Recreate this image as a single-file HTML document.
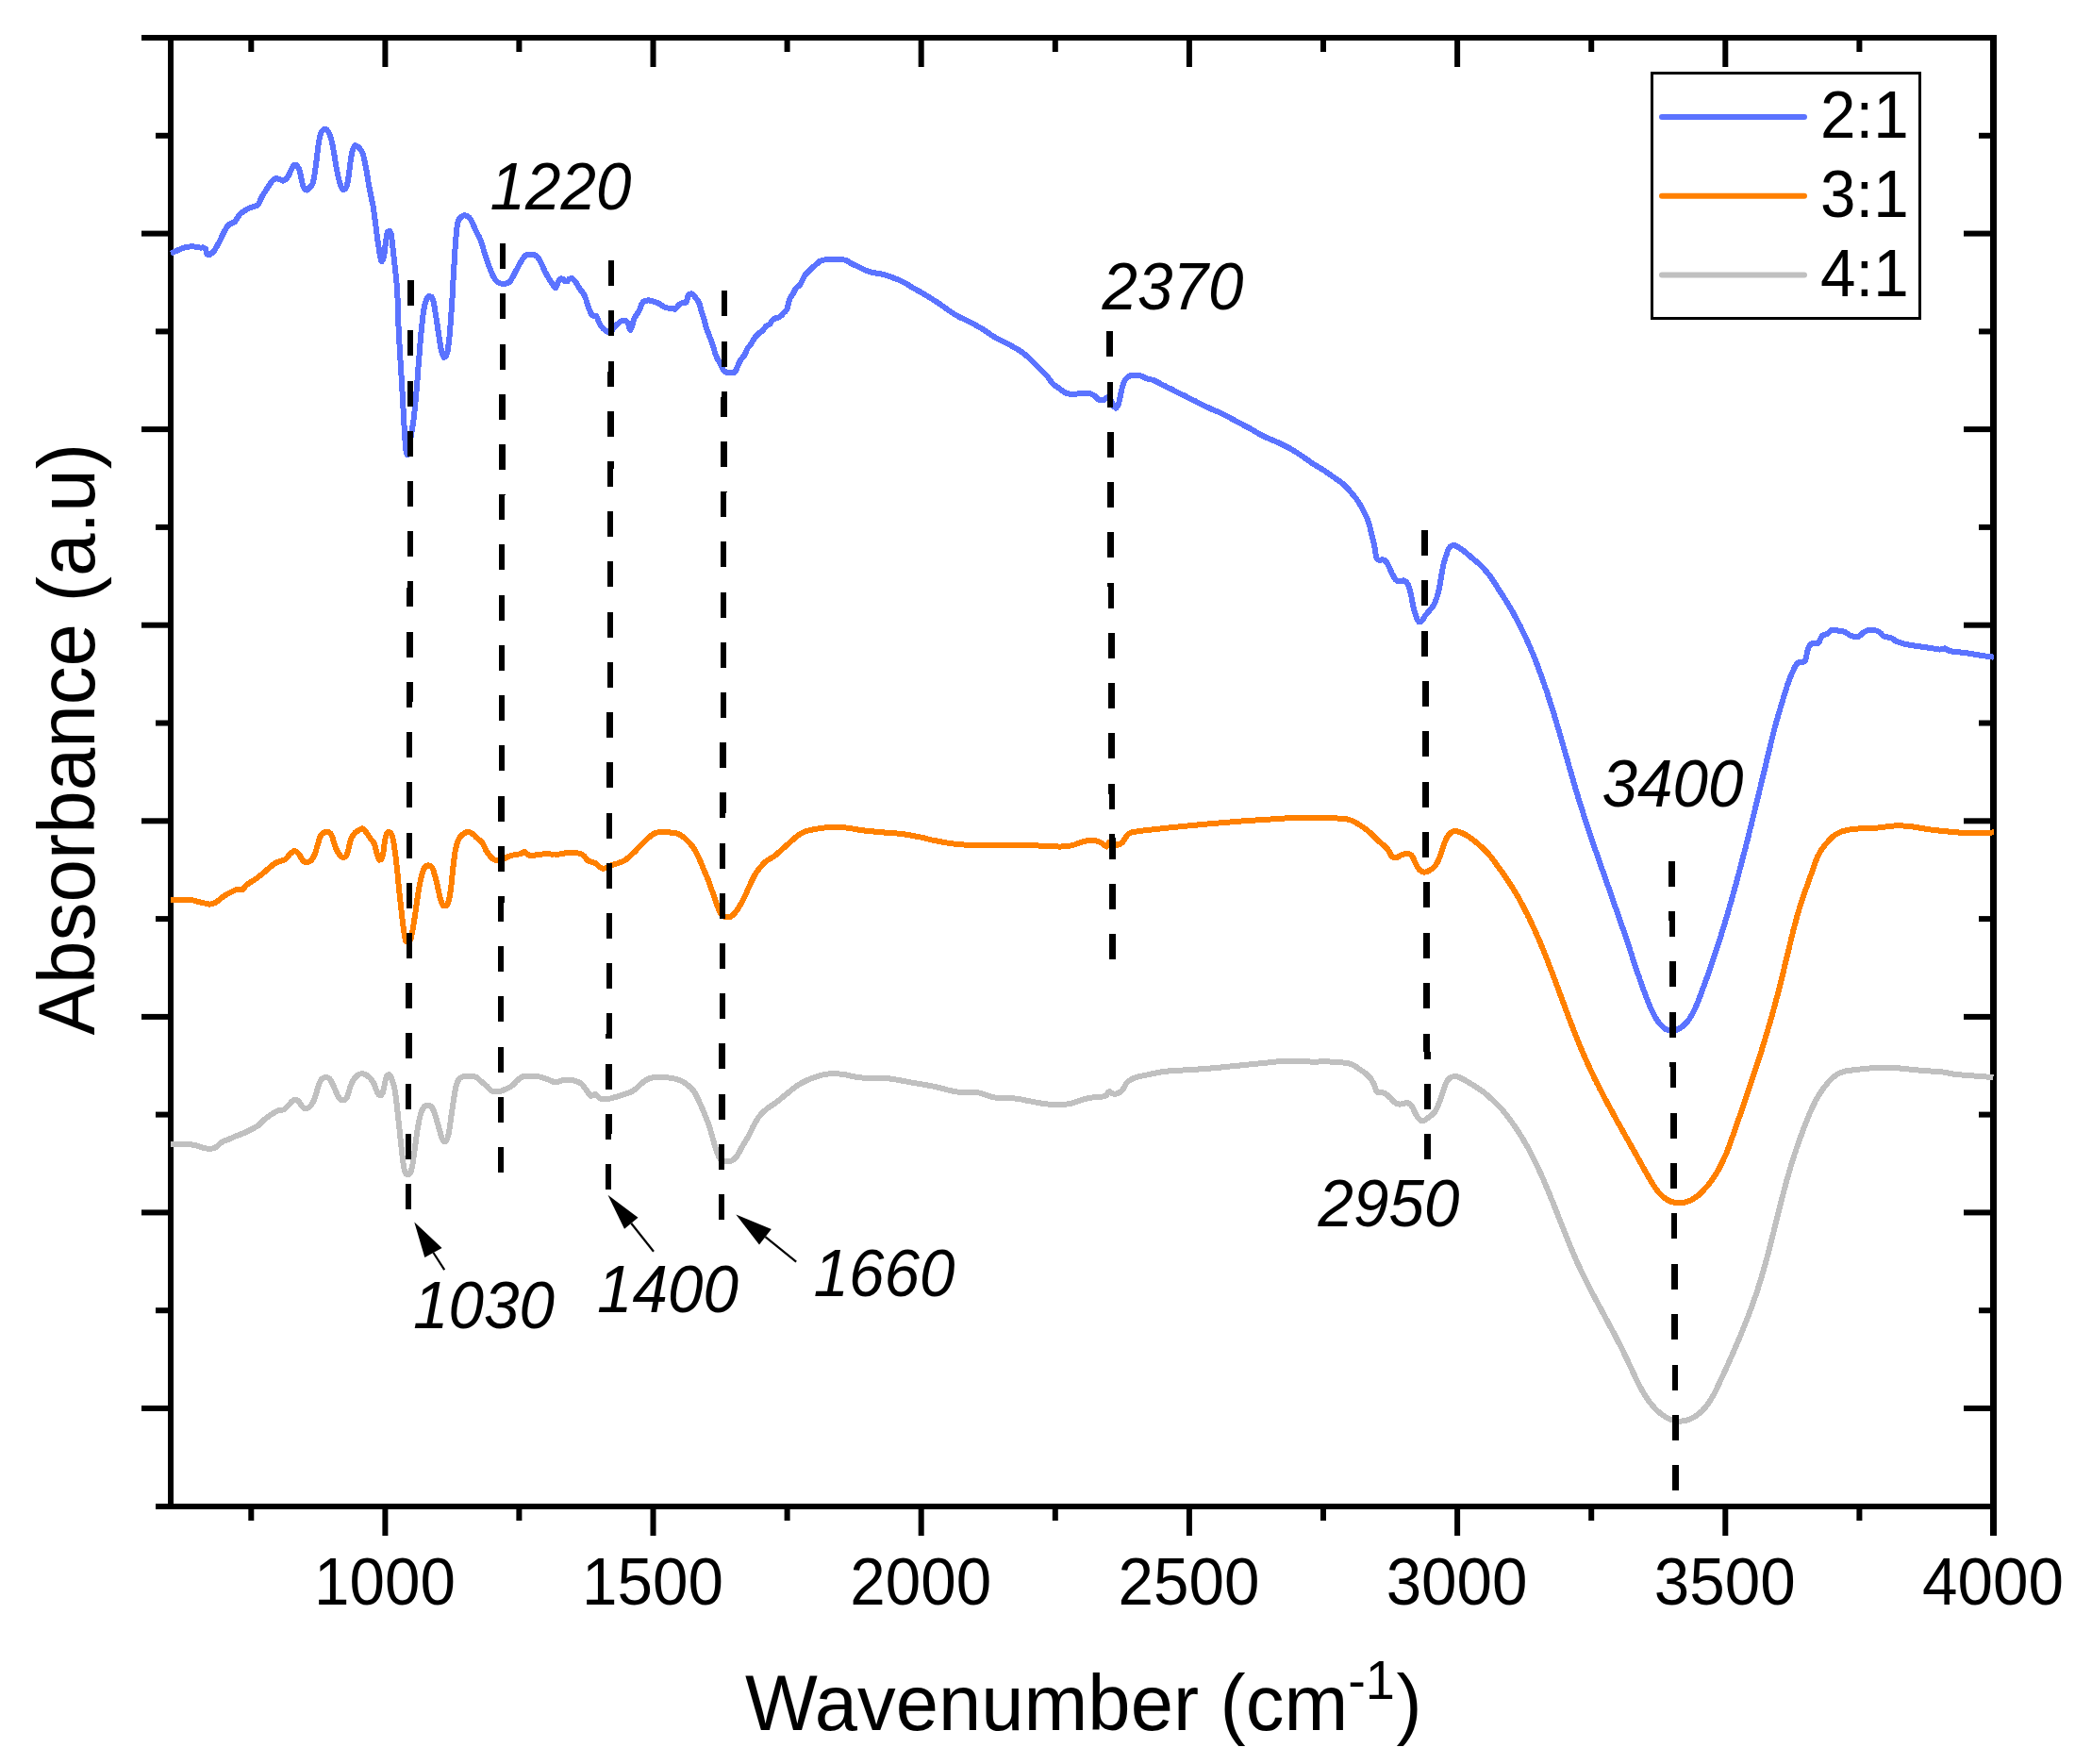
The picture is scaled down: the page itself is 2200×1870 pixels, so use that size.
<!DOCTYPE html>
<html lang="en"><head><meta charset="utf-8"><title>FTIR spectra</title>
<style>html,body{margin:0;padding:0;background:#fff}svg{display:block}text{font-family:"Liberation Sans",sans-serif;fill:#000}.it{font-style:italic}</style></head><body>
<svg width="2200" height="1870" viewBox="0 0 2200 1870">
<rect x="0" y="0" width="2200" height="1870" fill="#fff"/>
<g id="axes" fill="#000">
<rect x="150" y="37" width="1967" height="6"/>
<rect x="165" y="1594" width="1952" height="6"/>
<rect x="178" y="37" width="6" height="1563"/>
<rect x="2110" y="37" width="7" height="1591"/>
<rect x="165" y="140.8" width="13" height="6"/>
<rect x="2098" y="140.8" width="12" height="6"/>
<rect x="150" y="244.6" width="28" height="6"/>
<rect x="2082" y="244.6" width="28" height="6"/>
<rect x="165" y="348.4" width="13" height="6"/>
<rect x="2098" y="348.4" width="12" height="6"/>
<rect x="150" y="452.1" width="28" height="6"/>
<rect x="2082" y="452.1" width="28" height="6"/>
<rect x="165" y="555.9" width="13" height="6"/>
<rect x="2098" y="555.9" width="12" height="6"/>
<rect x="150" y="659.7" width="28" height="6"/>
<rect x="2082" y="659.7" width="28" height="6"/>
<rect x="165" y="763.5" width="13" height="6"/>
<rect x="2098" y="763.5" width="12" height="6"/>
<rect x="150" y="867.3" width="28" height="6"/>
<rect x="2082" y="867.3" width="28" height="6"/>
<rect x="165" y="971.1" width="13" height="6"/>
<rect x="2098" y="971.1" width="12" height="6"/>
<rect x="150" y="1074.9" width="28" height="6"/>
<rect x="2082" y="1074.9" width="28" height="6"/>
<rect x="165" y="1178.6" width="13" height="6"/>
<rect x="2098" y="1178.6" width="12" height="6"/>
<rect x="150" y="1282.4" width="28" height="6"/>
<rect x="2082" y="1282.4" width="28" height="6"/>
<rect x="165" y="1386.2" width="13" height="6"/>
<rect x="2098" y="1386.2" width="12" height="6"/>
<rect x="150" y="1490.0" width="28" height="6"/>
<rect x="2082" y="1490.0" width="28" height="6"/>
<rect x="405.4" y="43" width="6" height="28"/>
<rect x="405.4" y="1600" width="6" height="28"/>
<rect x="689.5" y="43" width="6" height="28"/>
<rect x="689.5" y="1600" width="6" height="28"/>
<rect x="973.7" y="43" width="6" height="28"/>
<rect x="973.7" y="1600" width="6" height="28"/>
<rect x="1257.9" y="43" width="6" height="28"/>
<rect x="1257.9" y="1600" width="6" height="28"/>
<rect x="1542.1" y="43" width="6" height="28"/>
<rect x="1542.1" y="1600" width="6" height="28"/>
<rect x="1826.3" y="43" width="6" height="28"/>
<rect x="1826.3" y="1600" width="6" height="28"/>
<rect x="263.3" y="43" width="6" height="12"/>
<rect x="263.3" y="1600" width="6" height="12"/>
<rect x="547.4" y="43" width="6" height="12"/>
<rect x="547.4" y="1600" width="6" height="12"/>
<rect x="831.6" y="43" width="6" height="12"/>
<rect x="831.6" y="1600" width="6" height="12"/>
<rect x="1115.8" y="43" width="6" height="12"/>
<rect x="1115.8" y="1600" width="6" height="12"/>
<rect x="1400.0" y="43" width="6" height="12"/>
<rect x="1400.0" y="1600" width="6" height="12"/>
<rect x="1684.2" y="43" width="6" height="12"/>
<rect x="1684.2" y="1600" width="6" height="12"/>
<rect x="1968.4" y="43" width="6" height="12"/>
<rect x="1968.4" y="1600" width="6" height="12"/>
</g>
<g id="curves" shape-rendering="crispEdges">
<line x1="1510.2" y1="561.9" x2="1513.6" y2="1229.3" stroke="#000" stroke-width="7.0" stroke-dasharray="27.00 26.37"/>
<path d="M181.1,1213.1L184.1,1212.9 187.1,1212.8 190.1,1212.7 193.1,1212.6 196.1,1212.6 199.1,1212.9 202.1,1213.3 205.0,1213.8 208.0,1214.4 210.9,1215.2 213.7,1216.2 216.5,1217.1 219.5,1217.6 222.5,1217.7 225.5,1217.5 228.3,1216.7 230.7,1214.8 232.8,1212.7 235.1,1210.8 237.8,1209.5 240.6,1208.5 243.4,1207.3 246.2,1206.1 248.9,1204.9 251.6,1203.7 254.5,1202.7 257.3,1201.6 260.1,1200.5 262.8,1199.2 265.4,1197.8 268.1,1196.4 270.7,1195.0 273.3,1193.5 275.6,1191.6 277.7,1189.4 279.8,1187.2 282.1,1185.3 284.5,1183.6 287.0,1181.9 289.5,1180.3 292.1,1178.8 294.8,1177.5 297.8,1177.0 300.7,1176.4 303.1,1174.7 305.1,1172.4 307.1,1170.2 309.2,1168.0 311.5,1166.1 314.3,1165.7 316.7,1167.4 318.4,1169.9 319.9,1172.5 322.0,1174.6 324.9,1175.2 327.5,1173.9 329.7,1171.8 331.3,1169.3 332.7,1166.6 333.8,1163.8 334.8,1161.0 335.6,1158.1 336.4,1155.2 337.3,1152.3 338.2,1149.5 339.3,1146.7 340.9,1144.1 343.3,1142.5 346.2,1142.1 349.0,1143.1 350.8,1145.5 352.2,1148.2 353.5,1150.9 354.6,1153.7 355.8,1156.4 357.0,1159.1 358.3,1161.9 359.8,1164.5 362.1,1166.3 365.0,1166.3 367.3,1164.4 368.6,1161.8 369.4,1158.9 370.2,1156.0 371.1,1153.1 372.1,1150.3 373.3,1147.5 374.7,1144.9 376.4,1142.4 378.5,1140.3 381.0,1138.7 383.9,1138.1 386.8,1138.8 389.4,1140.3 391.7,1142.3 393.7,1144.5 395.4,1147.0 396.8,1149.6 397.9,1152.4 398.9,1155.2 400.0,1158.0 401.6,1160.5 404.1,1160.9 405.8,1158.4 406.6,1155.5 407.2,1152.6 407.8,1149.7 408.4,1146.7 409.0,1143.8 410.0,1141.0 412.1,1139.1 414.2,1141.0 415.4,1143.7 416.3,1146.5 417.2,1149.4 417.9,1152.3 418.6,1155.3 419.1,1158.2 419.5,1161.2 419.9,1164.2 420.2,1167.1 420.6,1170.1 420.9,1173.1 421.2,1176.1 421.6,1179.1 421.9,1182.1 422.2,1185.0 422.5,1188.0 422.9,1191.0 423.2,1194.0 423.5,1197.0 423.8,1200.0 424.1,1202.9 424.4,1205.9 424.8,1208.9 425.1,1211.9 425.4,1214.9 425.7,1217.9 426.0,1220.8 426.4,1223.8 426.7,1226.8 427.1,1229.8 427.5,1232.7 427.9,1235.7 428.4,1238.7 429.2,1241.6 430.4,1244.3 433.0,1245.3 435.0,1243.2 436.1,1240.5 436.8,1237.5 437.4,1234.6 437.8,1231.6 438.3,1228.6 438.7,1225.7 439.1,1222.7 439.6,1219.7 440.0,1216.8 440.4,1213.8 440.7,1210.8 441.1,1207.8 441.5,1204.9 441.9,1201.9 442.4,1198.9 442.9,1196.0 443.4,1193.0 443.9,1190.1 444.5,1187.1 445.2,1184.2 446.0,1181.3 446.9,1178.5 448.1,1175.7 449.7,1173.2 452.2,1171.7 455.2,1171.7 457.6,1173.4 459.1,1176.0 460.2,1178.8 461.2,1181.6 462.1,1184.5 463.0,1187.3 463.8,1190.2 464.6,1193.1 465.4,1196.0 466.2,1198.9 467.1,1201.8 467.9,1204.6 468.9,1207.5 470.4,1210.0 472.9,1209.7 474.2,1207.0 475.1,1204.2 475.8,1201.2 476.3,1198.3 476.8,1195.3 477.2,1192.4 477.6,1189.4 478.0,1186.4 478.4,1183.4 478.9,1180.5 479.3,1177.5 479.7,1174.5 480.1,1171.6 480.6,1168.6 481.0,1165.6 481.5,1162.7 482.0,1159.7 482.5,1156.8 483.1,1153.8 483.7,1150.9 484.5,1148.0 485.7,1145.2 487.6,1143.0 490.3,1141.6 493.2,1141.0 496.2,1140.8 499.2,1140.8 502.2,1141.1 505.0,1142.1 507.4,1143.9 509.6,1145.9 511.9,1147.8 514.3,1149.7 516.5,1151.7 518.5,1153.9 520.6,1156.0 523.4,1157.2 526.4,1157.4 529.3,1157.1 532.2,1156.2 535.0,1155.1 537.7,1153.9 540.4,1152.6 542.9,1150.9 545.1,1148.9 547.1,1146.6 549.3,1144.6 551.6,1142.7 554.3,1141.3 557.2,1140.7 560.2,1140.7 563.2,1140.8 566.2,1140.9 569.2,1141.1 572.2,1141.5 575.1,1142.2 577.9,1143.2 580.8,1144.2 583.5,1145.4 586.2,1146.6 589.2,1147.3 592.1,1146.8 594.9,1145.8 597.8,1144.9 600.8,1144.7 603.8,1144.8 606.8,1145.1 609.7,1145.8 612.5,1146.7 615.2,1148.1 617.5,1150.0 619.4,1152.4 621.1,1154.8 622.9,1157.2 624.4,1159.8 626.3,1162.1 628.6,1161.1 630.8,1159.6 632.9,1161.7 635.1,1163.7 637.8,1165.0 640.8,1165.5 643.8,1165.2 646.7,1164.6 649.6,1163.8 652.5,1163.1 655.4,1162.3 658.3,1161.4 661.1,1160.4 664.0,1159.5 666.8,1158.5 669.5,1157.3 672.1,1155.8 674.4,1153.9 676.6,1151.8 678.8,1149.7 681.1,1147.8 683.5,1146.0 686.0,1144.4 688.8,1143.2 691.7,1142.5 694.7,1142.1 697.7,1142.0 700.7,1142.0 703.6,1142.1 706.6,1142.3 709.6,1142.6 712.6,1143.0 715.5,1143.6 718.4,1144.5 721.2,1145.5 723.9,1146.8 726.5,1148.4 728.9,1150.1 731.2,1152.0 733.4,1154.1 735.3,1156.5 737.0,1158.9 738.4,1161.6 739.7,1164.3 740.9,1167.0 742.1,1169.8 743.4,1172.5 744.6,1175.2 745.8,1178.0 746.9,1180.8 748.1,1183.5 749.1,1186.3 750.2,1189.1 751.2,1192.0 752.2,1194.8 753.1,1197.7 754.0,1200.5 754.8,1203.4 755.6,1206.3 756.4,1209.2 757.2,1212.1 758.1,1214.9 759.0,1217.8 759.9,1220.7 761.0,1223.5 762.2,1226.2 763.8,1228.7 766.1,1230.7 769.0,1231.3 772.0,1231.2 774.9,1230.8 777.6,1229.5 779.8,1227.4 781.6,1225.1 783.2,1222.5 784.6,1219.9 786.0,1217.2 787.5,1214.6 789.0,1212.1 790.6,1209.5 792.1,1206.9 793.5,1204.3 794.9,1201.6 796.2,1198.9 797.5,1196.2 798.9,1193.5 800.3,1190.9 801.8,1188.3 803.4,1185.7 805.1,1183.3 807.1,1181.0 809.2,1178.9 811.4,1176.9 813.7,1175.0 816.1,1173.2 818.6,1171.5 821.1,1169.9 823.6,1168.1 825.9,1166.3 828.3,1164.4 830.6,1162.5 832.9,1160.6 835.2,1158.7 837.6,1156.8 839.9,1154.9 842.3,1153.1 844.7,1151.3 847.2,1149.7 849.8,1148.2 852.4,1146.7 855.1,1145.4 857.9,1144.3 860.7,1143.2 863.5,1142.2 866.4,1141.2 869.2,1140.3 872.1,1139.5 875.1,1138.9 878.0,1138.5 881.0,1138.2 884.0,1138.2 887.0,1138.3 890.0,1138.5 893.0,1138.8 896.0,1139.2 898.9,1139.8 901.8,1140.5 904.7,1141.2 907.7,1141.8 910.6,1142.3 913.6,1142.5 916.6,1142.6 919.6,1142.7 922.6,1142.7 925.6,1142.8 928.6,1142.9 931.6,1143.0 934.6,1143.0 937.6,1143.1 940.6,1143.3 943.6,1143.5 946.6,1143.9 949.5,1144.4 952.5,1144.9 955.4,1145.5 958.4,1146.1 961.3,1146.6 964.3,1147.2 967.2,1147.7 970.2,1148.2 973.1,1148.7 976.1,1149.2 979.1,1149.7 982.0,1150.2 985.0,1150.8 987.9,1151.3 990.8,1151.9 993.8,1152.6 996.7,1153.3 999.6,1154.1 1002.5,1154.8 1005.4,1155.6 1008.3,1156.3 1011.2,1156.9 1014.2,1157.4 1017.2,1157.8 1020.2,1157.9 1023.2,1157.9 1026.2,1157.9 1029.2,1157.9 1032.2,1157.9 1035.2,1158.1 1038.1,1158.5 1041.1,1159.2 1043.9,1160.2 1046.7,1161.2 1049.6,1162.2 1052.4,1163.0 1055.4,1163.6 1058.4,1163.9 1061.4,1164.0 1064.4,1164.1 1067.4,1164.0 1070.4,1164.1 1073.4,1164.2 1076.3,1164.5 1079.3,1164.9 1082.3,1165.4 1085.2,1166.0 1088.2,1166.6 1091.1,1167.2 1094.0,1167.7 1097.0,1168.3 1099.9,1168.8 1102.9,1169.4 1105.8,1169.9 1108.8,1170.3 1111.8,1170.6 1114.8,1170.8 1117.8,1170.9 1120.8,1170.9 1123.8,1170.9 1126.8,1170.8 1129.8,1170.6 1132.8,1170.3 1135.7,1169.7 1138.6,1168.8 1141.4,1168.0 1144.3,1166.9 1147.1,1165.9 1149.9,1165.0 1152.9,1164.4 1155.8,1163.9 1158.8,1163.4 1161.8,1163.0 1164.8,1162.7 1167.8,1162.6 1170.7,1162.4 1173.3,1161.0 1174.5,1158.3 1176.6,1157.2 1179.0,1159.0 1181.7,1160.0 1184.6,1159.3 1187.3,1157.9 1189.6,1156.0 1191.4,1153.6 1192.7,1150.9 1194.2,1148.3 1196.4,1146.3 1198.8,1144.6 1201.5,1143.2 1204.3,1142.2 1207.2,1141.3 1210.1,1140.7 1213.1,1140.0 1216.0,1139.5 1218.9,1138.8 1221.9,1138.2 1224.8,1137.6 1227.8,1137.0 1230.7,1136.5 1233.7,1136.1 1236.6,1135.7 1239.6,1135.4 1242.6,1135.1 1245.6,1134.9 1248.6,1134.8 1251.6,1134.6 1254.6,1134.5 1257.6,1134.3 1260.6,1134.2 1263.6,1134.0 1266.6,1133.8 1269.6,1133.6 1272.6,1133.3 1275.6,1133.1 1278.6,1132.9 1281.5,1132.7 1284.5,1132.4 1287.5,1132.2 1290.5,1131.9 1293.5,1131.6 1296.5,1131.3 1299.5,1131.0 1302.5,1130.7 1305.4,1130.4 1308.4,1130.1 1311.4,1129.8 1314.4,1129.5 1317.4,1129.2 1320.4,1128.9 1323.3,1128.6 1326.3,1128.3 1329.3,1128.0 1332.3,1127.7 1335.3,1127.4 1338.3,1127.1 1341.3,1126.8 1344.2,1126.5 1347.2,1126.1 1350.2,1125.8 1353.2,1125.5 1356.2,1125.3 1359.2,1125.1 1362.2,1124.9 1365.2,1124.8 1368.2,1124.8 1371.2,1124.8 1374.2,1124.9 1377.2,1124.9 1380.2,1125.1 1383.2,1125.3 1386.1,1125.4 1389.1,1125.5 1392.1,1125.6 1395.1,1125.5 1398.1,1125.5 1401.1,1125.4 1404.1,1125.4 1407.1,1125.4 1410.1,1125.5 1413.1,1125.7 1416.1,1125.8 1419.1,1126.0 1422.1,1126.3 1425.1,1126.6 1428.1,1127.0 1431.0,1127.6 1433.8,1128.6 1436.5,1130.0 1439.0,1131.7 1441.4,1133.4 1443.9,1135.1 1446.4,1136.8 1448.7,1138.7 1450.9,1140.7 1452.9,1143.0 1454.6,1145.5 1456.1,1148.1 1457.4,1150.7 1458.3,1153.6 1459.1,1156.5 1461.2,1158.5 1464.2,1158.4 1467.2,1158.5 1469.8,1160.0 1472.1,1162.0 1474.3,1164.0 1476.3,1166.2 1478.4,1168.4 1480.9,1169.9 1483.8,1170.6 1486.8,1170.4 1489.6,1169.4 1492.6,1169.3 1495.2,1170.7 1497.1,1173.0 1498.5,1175.7 1499.7,1178.4 1501.1,1181.1 1502.6,1183.7 1504.4,1186.0 1506.7,1187.9 1509.6,1188.0 1512.2,1186.4 1514.6,1184.6 1517.0,1182.9 1519.3,1180.9 1521.2,1178.6 1522.7,1176.0 1524.0,1173.3 1525.2,1170.6 1526.3,1167.8 1527.3,1165.0 1528.2,1162.1 1529.1,1159.2 1530.1,1156.4 1531.1,1153.6 1532.1,1150.8 1533.3,1148.0 1534.8,1145.4 1536.8,1143.2 1539.4,1141.6 1542.3,1141.2 1545.3,1141.5 1548.1,1142.5 1550.8,1143.8 1553.4,1145.3 1556.0,1146.8 1558.6,1148.3 1561.2,1149.9 1563.7,1151.5 1566.2,1153.1 1568.7,1154.8 1571.2,1156.5 1573.6,1158.3 1575.9,1160.2 1578.2,1162.1 1580.4,1164.2 1582.6,1166.2 1584.8,1168.2 1587.0,1170.3 1589.1,1172.4 1591.1,1174.6 1593.1,1176.9 1595.0,1179.2 1596.9,1181.5 1598.8,1183.9 1600.6,1186.3 1602.3,1188.7 1604.0,1191.2 1605.7,1193.7 1607.4,1196.1 1609.0,1198.6 1610.7,1201.2 1612.3,1203.7 1613.9,1206.2 1615.4,1208.8 1616.9,1211.4 1618.4,1214.0 1619.9,1216.6 1621.3,1219.3 1622.7,1221.9 1624.1,1224.6 1625.5,1227.2 1626.8,1229.9 1628.1,1232.6 1629.4,1235.3 1630.7,1238.0 1632.0,1240.8 1633.2,1243.5 1634.5,1246.2 1635.7,1249.0 1636.9,1251.7 1638.1,1254.5 1639.2,1257.2 1640.4,1260.0 1641.5,1262.8 1642.7,1265.5 1643.8,1268.3 1644.9,1271.1 1646.1,1273.9 1647.2,1276.7 1648.3,1279.5 1649.4,1282.2 1650.5,1285.0 1651.6,1287.8 1652.7,1290.6 1653.8,1293.4 1654.9,1296.2 1656.0,1299.0 1657.1,1301.8 1658.2,1304.6 1659.3,1307.4 1660.4,1310.1 1661.5,1312.9 1662.6,1315.7 1663.8,1318.5 1664.9,1321.3 1666.1,1324.0 1667.2,1326.8 1668.4,1329.6 1669.6,1332.3 1670.8,1335.1 1672.0,1337.8 1673.3,1340.5 1674.6,1343.2 1675.8,1345.9 1677.1,1348.7 1678.4,1351.4 1679.8,1354.1 1681.1,1356.7 1682.4,1359.4 1683.8,1362.1 1685.1,1364.8 1686.5,1367.4 1687.9,1370.1 1689.3,1372.8 1690.7,1375.4 1692.1,1378.1 1693.5,1380.7 1694.9,1383.4 1696.4,1386.0 1697.8,1388.6 1699.2,1391.3 1700.6,1393.9 1702.1,1396.6 1703.5,1399.2 1704.9,1401.8 1706.3,1404.5 1707.7,1407.1 1709.2,1409.8 1710.6,1412.4 1712.0,1415.1 1713.4,1417.7 1714.7,1420.4 1716.1,1423.1 1717.5,1425.7 1718.8,1428.4 1720.2,1431.1 1721.5,1433.8 1722.8,1436.5 1724.1,1439.2 1725.4,1441.9 1726.7,1444.6 1728.0,1447.3 1729.3,1450.0 1730.5,1452.7 1731.8,1455.5 1733.0,1458.2 1734.3,1460.9 1735.7,1463.6 1737.0,1466.3 1738.3,1469.0 1739.7,1471.6 1741.2,1474.2 1742.7,1476.8 1744.3,1479.4 1745.9,1481.9 1747.6,1484.4 1749.4,1486.8 1751.3,1489.1 1753.2,1491.4 1755.3,1493.6 1757.4,1495.7 1759.7,1497.7 1762.0,1499.5 1764.5,1501.2 1767.0,1502.8 1769.7,1504.1 1772.5,1505.3 1775.4,1506.1 1778.3,1506.6 1781.3,1506.7 1784.3,1506.4 1787.3,1505.9 1790.1,1505.0 1792.9,1503.9 1795.6,1502.5 1798.1,1500.9 1800.6,1499.2 1802.9,1497.3 1805.1,1495.2 1807.1,1493.0 1809.0,1490.7 1810.8,1488.3 1812.5,1485.8 1814.1,1483.3 1815.6,1480.7 1817.1,1478.1 1818.5,1475.4 1819.8,1472.7 1821.1,1470.0 1822.4,1467.3 1823.6,1464.6 1824.9,1461.9 1826.2,1459.2 1827.4,1456.4 1828.7,1453.7 1829.9,1451.0 1831.1,1448.2 1832.4,1445.5 1833.6,1442.8 1834.8,1440.0 1836.0,1437.3 1837.3,1434.5 1838.5,1431.8 1839.7,1429.0 1840.8,1426.3 1842.0,1423.5 1843.2,1420.8 1844.4,1418.0 1845.5,1415.2 1846.7,1412.4 1847.8,1409.7 1848.9,1406.9 1850.0,1404.1 1851.1,1401.3 1852.2,1398.5 1853.3,1395.7 1854.4,1392.9 1855.4,1390.1 1856.5,1387.3 1857.5,1384.5 1858.5,1381.7 1859.5,1378.8 1860.5,1376.0 1861.5,1373.2 1862.4,1370.3 1863.4,1367.5 1864.3,1364.6 1865.2,1361.7 1866.1,1358.9 1867.0,1356.0 1867.8,1353.1 1868.7,1350.3 1869.5,1347.4 1870.3,1344.5 1871.2,1341.6 1872.0,1338.7 1872.8,1335.8 1873.5,1332.9 1874.3,1330.0 1875.1,1327.1 1875.8,1324.2 1876.6,1321.3 1877.3,1318.4 1878.1,1315.5 1878.8,1312.6 1879.5,1309.7 1880.3,1306.8 1881.0,1303.9 1881.7,1301.0 1882.4,1298.0 1883.2,1295.1 1883.9,1292.2 1884.6,1289.3 1885.3,1286.4 1886.0,1283.5 1886.8,1280.6 1887.5,1277.7 1888.2,1274.8 1889.0,1271.9 1889.7,1268.9 1890.5,1266.0 1891.2,1263.1 1892.0,1260.2 1892.8,1257.3 1893.5,1254.4 1894.3,1251.6 1895.1,1248.7 1896.0,1245.8 1896.8,1242.9 1897.6,1240.0 1898.5,1237.1 1899.3,1234.3 1900.2,1231.4 1901.1,1228.5 1902.0,1225.7 1902.9,1222.8 1903.9,1220.0 1904.8,1217.1 1905.8,1214.3 1906.8,1211.4 1907.8,1208.6 1908.8,1205.8 1909.9,1203.0 1910.9,1200.2 1912.0,1197.4 1913.0,1194.6 1914.1,1191.8 1915.2,1189.0 1916.3,1186.2 1917.4,1183.4 1918.6,1180.6 1919.8,1177.9 1921.0,1175.1 1922.3,1172.4 1923.6,1169.7 1924.9,1167.0 1926.4,1164.4 1927.9,1161.8 1929.5,1159.3 1931.1,1156.8 1932.9,1154.3 1934.7,1151.9 1936.5,1149.6 1938.4,1147.2 1940.4,1145.0 1942.5,1142.9 1944.9,1141.0 1947.3,1139.3 1950.0,1137.8 1952.7,1136.6 1955.6,1135.7 1958.5,1135.2 1961.5,1134.8 1964.4,1134.4 1967.4,1134.0 1970.4,1133.7 1973.4,1133.4 1976.4,1133.1 1979.4,1132.8 1982.3,1132.5 1985.3,1132.2 1988.3,1132.0 1991.3,1131.8 1994.3,1131.7 1997.3,1131.6 2000.3,1131.6 2003.3,1131.7 2006.3,1131.8 2009.3,1132.0 2012.3,1132.2 2015.3,1132.6 2018.3,1132.9 2021.2,1133.2 2024.2,1133.5 2027.2,1133.8 2030.2,1134.1 2033.2,1134.4 2036.2,1134.7 2039.2,1135.0 2042.2,1135.2 2045.1,1135.4 2048.1,1135.6 2051.1,1135.8 2054.1,1136.0 2057.1,1136.2 2060.1,1136.5 2063.1,1137.0 2066.0,1137.6 2068.9,1138.3 2071.9,1138.7 2074.9,1139.1 2077.8,1139.3 2080.8,1139.6 2083.8,1139.8 2086.8,1140.0 2089.8,1140.3 2092.8,1140.5 2095.8,1140.7 2098.8,1140.9 2101.8,1141.2 2104.8,1141.4 2107.8,1141.7 2110.7,1141.9 2113.4,1142.1" fill="none" stroke="#C0C0C0" stroke-width="6" stroke-linejoin="round" stroke-linecap="butt"/>
<path d="M181.1,954.0L184.1,953.8 187.1,953.7 190.1,953.6 193.1,953.6 196.1,953.6 199.1,953.7 202.1,954.0 205.1,954.5 208.0,955.3 210.8,956.1 213.8,956.8 216.7,957.4 219.6,958.3 222.5,958.6 225.5,958.0 228.2,956.9 230.7,955.2 233.1,953.4 235.4,951.5 237.9,949.8 240.4,948.2 243.1,946.8 245.8,945.4 248.4,944.0 251.2,943.0 254.2,943.2 257.1,943.0 259.2,940.8 261.0,938.5 263.4,936.7 266.0,935.1 268.5,933.5 271.0,931.9 273.5,930.1 275.8,928.2 278.1,926.3 280.4,924.4 282.7,922.4 285.0,920.5 287.3,918.6 289.5,916.6 292.0,914.9 294.7,913.7 297.6,912.8 300.5,912.1 303.1,910.6 305.0,908.3 306.8,905.9 309.0,903.9 311.5,902.2 314.3,902.6 316.4,904.7 318.1,907.2 319.4,909.9 321.1,912.3 323.5,913.9 326.5,913.9 329.2,912.7 331.2,910.5 332.7,907.8 333.9,905.1 334.9,902.3 335.7,899.4 336.5,896.5 337.4,893.6 338.2,890.7 339.1,887.9 340.4,885.2 342.5,883.1 345.3,882.0 348.3,882.0 350.6,883.8 352.0,886.4 353.0,889.3 353.8,892.2 354.6,895.0 355.6,897.9 356.8,900.6 358.2,903.3 359.8,905.8 361.7,908.1 364.4,909.1 366.9,907.6 368.2,904.9 369.0,902.0 369.7,899.1 370.4,896.2 371.1,893.3 371.9,890.4 373.0,887.6 374.6,885.1 376.5,882.7 378.9,881.1 381.5,879.6 384.2,878.3 386.5,880.0 388.3,882.4 390.0,884.8 391.7,887.4 393.4,889.8 395.5,891.9 396.9,894.5 397.8,897.4 398.5,900.3 399.2,903.2 400.1,906.1 401.0,909.0 402.3,911.7 404.5,910.7 405.5,907.9 406.2,904.9 406.7,902.0 407.0,899.0 407.4,896.0 407.8,893.0 408.3,890.1 408.9,887.1 409.7,884.3 411.4,881.9 414.0,882.7 415.4,885.3 416.3,888.1 416.9,891.1 417.5,894.0 418.0,897.0 418.4,899.9 418.8,902.9 419.2,905.9 419.6,908.9 419.9,911.8 420.3,914.8 420.6,917.8 420.9,920.8 421.3,923.8 421.6,926.8 421.9,929.7 422.2,932.7 422.4,935.7 422.7,938.7 423.0,941.7 423.3,944.7 423.6,947.7 424.0,950.6 424.3,953.6 424.6,956.6 424.9,959.6 425.2,962.6 425.6,965.6 425.9,968.5 426.3,971.5 426.6,974.5 427.0,977.5 427.3,980.4 427.7,983.4 428.1,986.4 428.6,989.4 429.1,992.3 429.6,995.3 430.5,998.1 432.8,999.2 434.7,996.9 435.8,994.2 436.5,991.2 437.1,988.3 437.6,985.4 438.1,982.4 438.6,979.4 439.1,976.5 439.5,973.5 439.9,970.5 440.4,967.6 440.8,964.6 441.2,961.6 441.7,958.7 442.1,955.7 442.5,952.7 443.0,949.8 443.4,946.8 443.9,943.8 444.4,940.9 444.9,937.9 445.5,935.0 446.1,932.0 446.8,929.1 447.6,926.2 448.5,923.4 449.6,920.6 451.3,918.1 454.0,917.2 456.8,918.1 458.6,920.5 459.7,923.3 460.5,926.1 461.4,929.0 462.1,931.9 462.8,934.8 463.5,937.8 464.1,940.7 464.7,943.6 465.4,946.6 466.0,949.5 466.8,952.4 467.6,955.3 468.7,958.1 470.4,960.5 473.0,960.3 474.8,957.9 475.8,955.1 476.4,952.2 477.0,949.2 477.4,946.2 477.8,943.3 478.2,940.3 478.6,937.3 478.9,934.3 479.2,931.3 479.5,928.4 479.8,925.4 480.1,922.4 480.4,919.4 480.8,916.4 481.2,913.5 481.5,910.5 481.9,907.5 482.3,904.5 482.8,901.6 483.4,898.6 484.1,895.7 485.0,892.9 486.2,890.1 487.6,887.4 489.7,885.3 492.0,883.5 494.7,882.0 497.6,882.0 500.3,883.3 502.6,885.2 504.6,887.4 506.8,889.5 509.3,891.1 511.3,893.3 512.7,896.0 514.0,898.7 515.3,901.4 517.0,903.9 518.7,906.3 520.7,908.6 522.8,910.7 525.4,912.1 528.4,912.1 531.3,911.4 534.1,910.4 536.8,909.1 539.5,907.8 542.4,906.9 545.3,906.2 548.3,905.8 551.2,905.3 553.9,904.1 556.4,902.7 558.5,904.8 560.7,906.7 563.6,907.4 566.5,906.8 569.4,906.1 572.4,905.7 575.4,905.5 578.4,905.4 581.4,905.4 584.4,905.5 587.4,905.5 590.4,905.6 593.4,905.5 596.4,905.2 599.2,904.1 602.2,903.7 605.2,903.7 608.2,903.8 611.1,904.2 614.1,904.7 616.9,905.6 619.3,907.4 621.1,909.8 623.0,912.1 625.7,913.4 628.6,914.0 631.4,915.1 633.5,917.1 635.7,919.2 638.4,920.5 641.4,920.5 644.0,919.2 646.7,917.8 649.5,916.8 652.4,916.0 655.3,915.1 658.1,914.1 660.8,912.9 663.4,911.4 665.8,909.5 668.0,907.5 670.2,905.4 672.4,903.4 674.5,901.3 676.6,899.1 678.7,897.0 680.8,894.9 682.9,892.7 685.0,890.6 687.2,888.5 689.4,886.5 691.8,884.7 694.4,883.3 697.3,882.4 700.3,882.3 703.3,882.2 706.3,882.2 709.3,882.4 712.3,882.7 715.3,883.0 718.2,883.6 720.9,884.9 723.4,886.5 725.8,888.4 728.0,890.4 730.1,892.5 732.1,894.7 734.0,897.1 735.7,899.6 737.3,902.1 738.7,904.8 740.0,907.5 741.3,910.2 742.5,912.9 743.7,915.7 744.8,918.5 745.9,921.2 747.1,924.0 748.3,926.8 749.4,929.5 750.6,932.3 751.6,935.1 752.7,937.9 753.7,940.7 754.7,943.6 755.7,946.4 756.7,949.2 757.6,952.1 758.6,954.9 759.6,957.7 760.6,960.6 761.8,963.3 762.9,966.1 764.3,968.8 766.2,971.0 769.0,972.1 772.0,972.3 774.8,971.6 777.3,969.8 779.3,967.7 781.2,965.3 782.8,962.8 784.4,960.2 785.8,957.6 787.2,955.0 788.6,952.3 789.9,949.6 791.2,946.9 792.4,944.1 793.6,941.4 794.9,938.6 796.1,935.9 797.4,933.2 798.7,930.5 800.1,927.9 801.6,925.3 803.3,922.8 805.2,920.4 807.1,918.2 809.2,916.0 811.3,913.9 813.7,912.0 816.2,910.4 818.8,908.9 821.3,907.3 823.6,905.4 825.9,903.4 828.1,901.3 830.3,899.3 832.6,897.4 834.8,895.4 837.1,893.4 839.3,891.4 841.5,889.4 843.8,887.4 846.2,885.6 848.7,884.0 851.3,882.5 854.1,881.4 857.0,880.5 859.9,879.9 862.8,879.3 865.8,878.7 868.7,878.2 871.7,877.8 874.7,877.4 877.7,877.2 880.7,876.9 883.7,876.8 886.7,876.8 889.7,876.8 892.7,877.0 895.6,877.3 898.6,877.7 901.6,878.1 904.5,878.6 907.5,879.2 910.5,879.7 913.4,880.1 916.4,880.5 919.4,880.8 922.4,881.1 925.4,881.4 928.3,881.7 931.3,881.9 934.3,882.2 937.3,882.5 940.3,882.7 943.3,882.9 946.3,883.1 949.3,883.3 952.3,883.6 955.2,883.9 958.2,884.3 961.2,884.8 964.1,885.3 967.1,885.8 970.0,886.4 973.0,886.9 975.9,887.5 978.9,888.2 981.8,888.9 984.7,889.7 987.6,890.4 990.5,891.0 993.5,891.5 996.4,892.1 999.4,892.7 1002.3,893.2 1005.3,893.7 1008.2,894.1 1011.2,894.5 1014.2,894.8 1017.2,895.1 1020.2,895.4 1023.2,895.6 1026.2,895.7 1029.2,895.8 1032.2,896.0 1035.1,896.0 1038.1,896.1 1041.1,896.2 1044.1,896.2 1047.1,896.2 1050.1,896.2 1053.1,896.2 1056.1,896.2 1059.1,896.2 1062.1,896.2 1065.1,896.2 1068.1,896.2 1071.1,896.2 1074.1,896.2 1077.1,896.2 1080.1,896.2 1083.1,896.2 1086.1,896.2 1089.1,896.3 1092.1,896.3 1095.1,896.3 1098.1,896.4 1101.1,896.5 1104.1,896.7 1107.1,896.8 1110.1,897.0 1113.1,897.2 1116.1,897.3 1119.1,897.4 1122.1,897.5 1125.1,897.5 1128.1,897.4 1131.0,897.2 1134.0,896.7 1136.9,896.1 1139.7,895.3 1142.5,894.3 1145.3,893.2 1148.1,892.3 1151.0,891.6 1154.0,891.1 1157.0,890.9 1160.0,891.1 1162.9,891.6 1165.8,892.6 1168.4,894.0 1170.8,895.8 1173.2,897.4 1174.6,894.9 1176.3,892.5 1179.1,893.2 1181.7,894.6 1184.4,895.7 1187.3,895.2 1189.7,893.3 1191.4,890.9 1193.0,888.3 1194.7,885.9 1196.8,883.8 1199.5,882.5 1202.5,881.9 1205.4,881.4 1208.4,881.0 1211.4,880.6 1214.4,880.2 1217.3,879.9 1220.3,879.6 1223.3,879.2 1226.3,878.9 1229.3,878.6 1232.2,878.3 1235.2,877.9 1238.2,877.6 1241.2,877.3 1244.2,877.0 1247.2,876.7 1250.2,876.4 1253.1,876.1 1256.1,875.8 1259.1,875.5 1262.1,875.2 1265.1,874.9 1268.1,874.6 1271.1,874.4 1274.0,874.1 1277.0,873.8 1280.0,873.5 1283.0,873.3 1286.0,873.0 1289.0,872.7 1292.0,872.5 1295.0,872.2 1297.9,872.0 1300.9,871.7 1303.9,871.5 1306.9,871.2 1309.9,871.0 1312.9,870.8 1315.9,870.5 1318.9,870.3 1321.9,870.1 1324.9,869.9 1327.9,869.7 1330.9,869.5 1333.8,869.3 1336.8,869.2 1339.8,869.0 1342.8,868.8 1345.8,868.6 1348.8,868.4 1351.8,868.2 1354.8,868.0 1357.8,867.8 1360.8,867.6 1363.8,867.3 1366.8,867.1 1369.8,867.0 1372.8,867.0 1375.8,867.0 1378.8,866.9 1381.8,866.9 1384.8,867.0 1387.8,867.0 1390.8,867.0 1393.8,867.0 1396.8,867.1 1399.8,867.1 1402.8,867.1 1405.8,867.1 1408.8,867.2 1411.8,867.3 1414.8,867.4 1417.8,867.5 1420.8,867.7 1423.8,867.9 1426.7,868.2 1429.7,868.8 1432.6,869.7 1435.3,870.9 1437.9,872.3 1440.5,873.9 1443.0,875.5 1445.5,877.1 1448.0,878.9 1450.3,880.7 1452.6,882.7 1454.7,884.8 1456.8,887.0 1458.9,889.1 1461.1,891.1 1463.4,893.1 1465.7,895.0 1467.9,897.0 1470.1,899.1 1472.1,901.3 1473.5,904.0 1474.7,906.7 1476.9,908.7 1479.7,909.5 1482.4,908.5 1484.9,906.8 1487.7,905.7 1490.6,905.1 1493.6,905.2 1496.3,906.4 1498.0,908.8 1499.2,911.6 1500.4,914.3 1501.8,917.0 1503.2,919.6 1505.0,922.0 1507.3,923.9 1510.1,924.7 1513.0,924.1 1515.7,922.7 1518.2,921.1 1520.5,919.2 1522.4,916.8 1523.9,914.2 1525.2,911.5 1526.4,908.8 1527.5,906.0 1528.4,903.1 1529.3,900.3 1530.2,897.4 1531.2,894.6 1532.3,891.8 1533.4,889.0 1534.9,886.4 1536.8,884.1 1539.1,882.2 1541.9,881.1 1544.8,881.2 1547.7,882.1 1550.5,883.2 1553.2,884.5 1555.8,886.0 1558.3,887.7 1560.7,889.4 1563.0,891.3 1565.4,893.2 1567.7,895.1 1569.9,897.1 1572.1,899.1 1574.3,901.3 1576.3,903.4 1578.4,905.6 1580.3,907.9 1582.2,910.3 1584.0,912.7 1585.7,915.1 1587.5,917.5 1589.2,920.0 1591.0,922.4 1592.8,924.8 1594.5,927.3 1596.2,929.7 1597.9,932.2 1599.5,934.7 1601.2,937.2 1602.8,939.8 1604.4,942.3 1605.9,944.9 1607.5,947.4 1609.0,950.0 1610.5,952.6 1611.9,955.3 1613.4,957.9 1614.8,960.5 1616.2,963.2 1617.5,965.9 1618.9,968.5 1620.2,971.2 1621.6,973.9 1622.8,976.6 1624.1,979.3 1625.4,982.1 1626.6,984.8 1627.9,987.5 1629.1,990.3 1630.3,993.0 1631.5,995.8 1632.7,998.5 1633.8,1001.3 1635.0,1004.1 1636.1,1006.9 1637.2,1009.6 1638.3,1012.4 1639.5,1015.2 1640.6,1018.0 1641.7,1020.8 1642.7,1023.6 1643.8,1026.4 1644.9,1029.2 1646.0,1032.0 1647.0,1034.8 1648.1,1037.6 1649.1,1040.4 1650.2,1043.2 1651.2,1046.0 1652.3,1048.8 1653.3,1051.7 1654.3,1054.5 1655.4,1057.3 1656.4,1060.1 1657.5,1062.9 1658.5,1065.7 1659.5,1068.5 1660.6,1071.4 1661.6,1074.2 1662.7,1077.0 1663.7,1079.8 1664.8,1082.6 1665.9,1085.4 1667.0,1088.2 1668.0,1091.0 1669.1,1093.8 1670.2,1096.6 1671.3,1099.4 1672.5,1102.1 1673.6,1104.9 1674.7,1107.7 1675.9,1110.5 1677.0,1113.2 1678.2,1116.0 1679.4,1118.7 1680.6,1121.5 1681.8,1124.2 1683.1,1127.0 1684.3,1129.7 1685.6,1132.4 1686.9,1135.1 1688.2,1137.8 1689.4,1140.5 1690.7,1143.3 1692.1,1145.9 1693.4,1148.6 1694.8,1151.3 1696.1,1154.0 1697.5,1156.6 1698.9,1159.3 1700.3,1162.0 1701.7,1164.6 1703.1,1167.3 1704.5,1169.9 1705.9,1172.6 1707.3,1175.2 1708.8,1177.8 1710.2,1180.5 1711.6,1183.1 1713.1,1185.7 1714.5,1188.4 1716.0,1191.0 1717.5,1193.6 1718.9,1196.2 1720.4,1198.8 1721.9,1201.4 1723.3,1204.1 1724.8,1206.7 1726.3,1209.3 1727.8,1211.9 1729.2,1214.5 1730.7,1217.1 1732.2,1219.7 1733.7,1222.3 1735.1,1225.0 1736.6,1227.6 1738.1,1230.2 1739.5,1232.8 1741.0,1235.4 1742.5,1238.1 1743.9,1240.7 1745.4,1243.3 1746.9,1245.9 1748.3,1248.5 1749.8,1251.1 1751.4,1253.7 1752.9,1256.2 1754.6,1258.7 1756.4,1261.2 1758.2,1263.5 1760.2,1265.8 1762.3,1267.9 1764.6,1269.8 1767.1,1271.5 1769.7,1273.0 1772.5,1274.1 1775.4,1274.8 1778.4,1275.2 1781.4,1275.3 1784.4,1275.0 1787.3,1274.4 1790.1,1273.4 1792.9,1272.2 1795.5,1270.8 1798.0,1269.1 1800.4,1267.4 1802.6,1265.3 1804.7,1263.2 1806.8,1261.0 1808.8,1258.8 1810.8,1256.6 1812.7,1254.2 1814.5,1251.8 1816.2,1249.4 1817.8,1246.9 1819.4,1244.3 1821.0,1241.7 1822.4,1239.1 1823.8,1236.5 1825.2,1233.8 1826.5,1231.1 1827.7,1228.4 1829.0,1225.6 1830.2,1222.9 1831.3,1220.1 1832.4,1217.3 1833.4,1214.5 1834.5,1211.7 1835.5,1208.9 1836.5,1206.0 1837.5,1203.2 1838.5,1200.4 1839.5,1197.5 1840.5,1194.7 1841.5,1191.9 1842.4,1189.0 1843.4,1186.2 1844.4,1183.4 1845.4,1180.5 1846.4,1177.7 1847.3,1174.9 1848.3,1172.0 1849.3,1169.2 1850.3,1166.3 1851.2,1163.5 1852.2,1160.7 1853.2,1157.8 1854.1,1155.0 1855.1,1152.1 1856.0,1149.3 1857.0,1146.5 1857.9,1143.6 1858.9,1140.8 1859.8,1137.9 1860.7,1135.1 1861.7,1132.2 1862.6,1129.4 1863.5,1126.5 1864.4,1123.6 1865.3,1120.8 1866.3,1117.9 1867.2,1115.1 1868.1,1112.2 1869.0,1109.3 1869.9,1106.5 1870.7,1103.6 1871.6,1100.7 1872.4,1097.9 1873.3,1095.0 1874.2,1092.1 1875.0,1089.2 1875.9,1086.4 1876.7,1083.5 1877.5,1080.6 1878.4,1077.7 1879.2,1074.8 1880.0,1071.9 1880.8,1069.0 1881.6,1066.1 1882.4,1063.2 1883.1,1060.3 1883.9,1057.4 1884.7,1054.5 1885.4,1051.6 1886.2,1048.7 1886.9,1045.8 1887.7,1042.9 1888.4,1040.0 1889.1,1037.1 1889.8,1034.2 1890.5,1031.3 1891.2,1028.4 1891.9,1025.4 1892.6,1022.5 1893.3,1019.6 1894.0,1016.7 1894.7,1013.8 1895.4,1010.8 1896.1,1007.9 1896.8,1005.0 1897.5,1002.1 1898.2,999.2 1898.9,996.3 1899.6,993.4 1900.4,990.4 1901.1,987.5 1901.8,984.6 1902.6,981.7 1903.4,978.8 1904.1,975.9 1904.9,973.0 1905.7,970.1 1906.6,967.3 1907.4,964.4 1908.3,961.5 1909.1,958.6 1910.0,955.8 1911.0,952.9 1911.9,950.1 1912.9,947.2 1913.9,944.4 1915.0,941.6 1916.0,938.8 1917.0,936.0 1918.0,933.1 1919.0,930.3 1920.0,927.5 1921.0,924.7 1922.0,921.8 1923.0,919.0 1924.0,916.2 1925.0,913.3 1926.1,910.5 1927.2,907.8 1928.6,905.1 1930.1,902.5 1931.8,900.0 1933.5,897.6 1935.4,895.2 1937.4,893.0 1939.4,890.7 1941.4,888.5 1943.6,886.5 1946.1,884.8 1948.7,883.3 1951.4,882.0 1954.2,881.0 1957.1,880.3 1960.1,879.6 1963.0,879.2 1966.0,878.9 1969.0,878.6 1972.0,878.4 1975.0,878.3 1977.9,878.2 1980.9,878.1 1983.9,878.0 1986.9,877.9 1989.9,877.6 1992.9,877.3 1995.8,876.9 1998.8,876.5 2001.8,876.1 2004.7,875.8 2007.7,875.5 2010.7,875.3 2013.7,875.3 2016.7,875.4 2019.7,875.6 2022.7,875.8 2025.7,876.1 2028.7,876.5 2031.6,877.0 2034.6,877.5 2037.5,878.0 2040.5,878.5 2043.5,879.0 2046.4,879.4 2049.4,879.8 2052.4,880.1 2055.4,880.5 2058.3,880.8 2061.3,881.1 2064.3,881.4 2067.3,881.7 2070.3,882.0 2073.3,882.2 2076.3,882.5 2079.3,882.7 2082.2,882.9 2085.2,883.1 2088.2,883.2 2091.2,883.3 2094.2,883.4 2097.2,883.4 2100.2,883.4 2103.2,883.2 2106.2,883.0 2109.2,882.8 2112.2,882.5 2114.0,882.4" fill="none" stroke="#FF8000" stroke-width="6" stroke-linejoin="round" stroke-linecap="butt"/>
<path d="M181.1,268.6L183.9,267.4 186.6,266.1 189.3,264.9 192.1,263.8 194.9,262.7 197.8,262.0 200.8,261.5 203.8,261.3 206.8,261.6 209.7,262.2 212.7,262.6 215.7,262.4 218.0,263.8 218.7,266.7 219.4,269.6 222.0,270.0 224.5,268.4 226.7,266.3 228.4,263.9 229.9,261.3 231.3,258.6 232.7,255.9 234.0,253.3 235.3,250.6 236.6,247.9 238.0,245.2 239.4,242.5 240.9,240.0 243.0,237.8 245.7,236.6 248.5,235.5 250.4,233.2 251.9,230.6 253.5,228.1 255.6,226.0 258.1,224.3 260.6,222.7 263.2,221.2 265.9,219.9 268.8,219.1 271.7,218.3 274.0,216.5 275.3,213.8 276.5,211.0 277.8,208.3 279.4,205.8 281.0,203.3 282.6,200.7 284.2,198.2 285.8,195.6 287.6,193.2 289.6,191.0 292.0,189.3 294.9,189.5 297.6,190.7 300.5,191.7 303.0,190.3 304.8,187.9 306.4,185.3 307.6,182.6 308.7,179.8 310.1,177.2 312.0,174.9 314.7,175.3 316.4,177.8 317.5,180.5 318.3,183.4 318.9,186.4 319.5,189.3 320.1,192.3 320.8,195.2 321.7,198.0 322.9,200.8 325.3,201.6 327.5,199.6 329.7,197.4 331.3,194.9 332.2,192.1 332.8,189.1 333.3,186.2 333.8,183.2 334.2,180.3 334.6,177.3 335.0,174.3 335.4,171.3 335.8,168.4 336.1,165.4 336.5,162.4 336.8,159.4 337.2,156.4 337.6,153.5 338.0,150.5 338.6,147.6 339.2,144.6 340.1,141.8 341.3,139.0 343.4,137.0 346.3,137.5 348.3,139.7 349.5,142.4 350.5,145.2 351.3,148.1 352.0,151.1 352.6,154.0 353.1,156.9 353.7,159.9 354.2,162.9 354.7,165.8 355.2,168.8 355.6,171.7 356.1,174.7 356.6,177.7 357.2,180.6 357.8,183.5 358.4,186.5 359.1,189.4 359.9,192.3 360.7,195.2 361.6,198.0 363.0,200.7 365.6,200.5 367.3,198.0 368.2,195.1 368.8,192.2 369.3,189.2 369.7,186.3 370.1,183.3 370.5,180.3 370.9,177.4 371.3,174.4 371.6,171.4 372.0,168.4 372.5,165.5 373.1,162.5 373.8,159.6 374.8,156.8 376.4,154.3 379.0,155.1 381.1,157.3 383.0,159.5 384.3,162.2 385.3,165.1 386.0,168.0 386.6,170.9 387.2,173.9 387.8,176.8 388.4,179.8 388.9,182.7 389.4,185.7 389.9,188.6 390.3,191.6 390.8,194.6 391.3,197.5 391.9,200.5 392.5,203.4 393.1,206.3 393.7,209.3 394.3,212.2 394.9,215.2 395.5,218.1 396.0,221.1 396.4,224.0 396.8,227.0 397.2,230.0 397.6,233.0 398.0,235.9 398.4,238.9 398.7,241.9 399.1,244.9 399.5,247.8 399.9,250.8 400.3,253.8 400.7,256.8 401.1,259.7 401.6,262.7 402.0,265.7 402.5,268.6 403.0,271.6 403.6,274.5 404.6,277.3 406.2,275.4 406.9,272.5 407.4,269.5 407.8,266.6 408.1,263.6 408.5,260.6 408.9,257.6 409.3,254.7 409.7,251.7 410.2,248.7 410.9,245.8 412.8,244.7 414.4,247.1 415.0,250.0 415.4,253.0 415.8,256.0 416.1,259.0 416.4,261.9 416.8,264.9 417.1,267.9 417.4,270.9 417.7,273.9 418.0,276.9 418.4,279.8 418.7,282.8 419.0,285.8 419.4,288.8 419.7,291.8 420.0,294.7 420.3,297.7 420.6,300.7 420.8,303.7 421.0,306.7 421.2,309.7 421.3,312.7 421.5,315.7 421.6,318.7 421.7,321.7 421.8,324.7 421.9,327.7 422.0,330.7 422.1,333.7 422.2,336.7 422.3,339.7 422.4,342.7 422.5,345.7 422.6,348.7 422.8,351.7 423.0,354.7 423.1,357.7 423.3,360.7 423.4,363.7 423.6,366.6 423.8,369.6 424.0,372.6 424.1,375.6 424.3,378.6 424.5,381.6 424.7,384.6 424.8,387.6 425.0,390.6 425.2,393.6 425.4,396.6 425.6,399.6 425.8,402.6 425.9,405.6 426.1,408.6 426.3,411.6 426.5,414.6 426.7,417.6 426.8,420.5 427.0,423.5 427.2,426.5 427.3,429.5 427.5,432.5 427.7,435.5 427.8,438.5 428.0,441.5 428.1,444.5 428.3,447.5 428.5,450.5 428.6,453.5 428.8,456.5 429.0,459.5 429.2,462.5 429.4,465.5 429.7,468.5 429.9,471.5 430.2,474.4 430.5,477.4 430.8,480.4 432.1,482.4 433.0,479.5 433.6,476.6 434.1,473.7 434.5,470.7 435.0,467.7 435.4,464.8 435.9,461.8 436.4,458.8 436.8,455.9 437.3,452.9 437.8,449.9 438.2,447.0 438.6,444.0 438.9,441.0 439.3,438.0 439.6,435.1 439.9,432.1 440.2,429.1 440.5,426.1 440.8,423.1 441.1,420.1 441.3,417.1 441.6,414.1 441.9,411.2 442.1,408.2 442.3,405.2 442.6,402.2 442.8,399.2 443.0,396.2 443.2,393.2 443.4,390.2 443.7,387.2 443.9,384.2 444.1,381.2 444.4,378.3 444.6,375.3 444.8,372.3 445.1,369.3 445.3,366.3 445.6,363.3 445.8,360.3 446.1,357.3 446.4,354.3 446.6,351.4 446.9,348.4 447.2,345.4 447.6,342.4 447.9,339.4 448.2,336.4 448.6,333.5 449.0,330.5 449.5,327.5 450.0,324.6 450.7,321.7 451.7,318.8 453.0,316.1 455.0,313.9 457.6,314.7 458.9,317.4 459.7,320.3 460.2,323.2 460.8,326.2 461.2,329.2 461.7,332.1 462.2,335.1 462.7,338.0 463.1,341.0 463.6,344.0 464.0,347.0 464.4,349.9 464.9,352.9 465.3,355.9 465.8,358.8 466.2,361.8 466.7,364.7 467.2,367.7 467.7,370.7 468.4,373.6 469.3,376.4 470.8,379.0 473.0,377.5 473.9,374.7 474.6,371.8 475.0,368.8 475.5,365.8 475.8,362.9 476.1,359.9 476.5,356.9 476.7,353.9 477.0,350.9 477.3,347.9 477.5,344.9 477.8,342.0 478.0,339.0 478.2,336.0 478.4,333.0 478.6,330.0 478.8,327.0 479.0,324.0 479.2,321.0 479.4,318.0 479.6,315.0 479.7,312.0 479.9,309.0 480.1,306.0 480.2,303.0 480.4,300.0 480.5,297.0 480.7,294.0 480.9,291.0 481.0,288.1 481.2,285.1 481.4,282.1 481.6,279.1 481.8,276.1 481.9,273.1 482.1,270.1 482.3,267.1 482.5,264.1 482.7,261.1 483.0,258.1 483.2,255.1 483.4,252.1 483.7,249.1 484.0,246.2 484.3,243.2 484.6,240.2 485.1,237.2 485.8,234.3 487.1,231.6 489.3,229.6 492.0,228.4 494.9,228.6 497.3,230.4 499.0,232.8 500.5,235.4 501.8,238.2 502.9,240.9 504.1,243.7 505.4,246.4 506.9,249.0 508.3,251.7 509.5,254.4 510.5,257.3 511.4,260.1 512.2,263.0 513.1,265.9 513.9,268.7 514.9,271.6 515.8,274.4 516.8,277.3 517.8,280.1 518.8,282.9 519.9,285.7 521.1,288.5 522.2,291.3 523.5,294.0 525.0,296.5 527.1,298.7 529.7,300.2 532.6,300.9 535.6,300.8 538.5,300.1 540.8,298.3 542.5,295.8 543.9,293.1 545.2,290.4 546.7,287.8 548.1,285.1 549.5,282.5 550.9,279.9 552.4,277.3 554.0,274.7 555.7,272.3 558.0,270.3 560.9,269.8 563.9,269.8 566.9,270.2 569.3,271.8 571.1,274.2 572.7,276.8 574.1,279.4 575.3,282.2 576.5,284.9 577.7,287.7 579.1,290.3 580.5,293.0 582.1,295.5 583.7,298.1 585.3,300.6 586.8,303.2 588.9,305.2 590.5,302.9 591.4,300.0 592.5,297.3 594.7,295.3 597.4,295.8 599.3,298.2 601.6,298.4 603.3,295.9 605.8,294.9 608.2,296.6 610.3,298.8 611.9,301.3 613.4,303.9 615.0,306.5 616.8,308.9 618.6,311.2 620.1,313.9 621.1,316.7 622.0,319.5 622.9,322.4 623.8,325.2 624.9,328.1 626.0,330.9 627.2,333.6 629.6,334.8 632.2,335.0 633.5,337.7 634.6,340.5 635.8,343.2 637.4,345.8 639.3,348.1 641.5,350.1 644.1,351.6 647.0,351.8 649.2,349.9 651.0,347.5 652.9,345.1 655.1,343.1 657.4,341.2 660.0,339.8 663.0,339.8 665.3,341.6 666.4,344.4 667.1,347.3 668.4,349.8 669.7,347.1 670.5,344.2 671.3,341.3 672.2,338.4 673.5,335.7 675.1,333.2 676.8,330.8 678.2,328.1 679.3,325.3 680.3,322.5 682.0,320.0 684.7,318.7 687.6,318.4 690.6,318.8 693.5,319.7 696.3,320.6 699.0,321.9 701.5,323.6 703.9,325.4 706.7,326.4 709.7,326.6 712.6,327.1 715.5,327.7 717.8,325.9 719.4,323.4 721.8,321.6 724.7,321.0 727.6,320.7 728.5,317.9 729.0,315.0 730.1,312.2 732.8,311.4 735.4,312.8 737.1,315.2 739.0,317.6 740.7,320.0 741.8,322.8 742.5,325.7 743.2,328.6 744.1,331.5 745.1,334.3 746.1,337.2 746.9,340.0 747.6,343.0 748.3,345.9 749.2,348.7 750.3,351.5 751.4,354.3 752.5,357.1 753.5,359.9 754.6,362.8 755.5,365.6 756.4,368.5 757.3,371.3 758.2,374.2 759.2,377.0 760.4,379.8 761.8,382.4 763.2,385.1 764.5,387.8 765.9,390.5 767.5,393.0 769.8,394.7 772.8,394.9 775.8,395.4 778.6,394.7 780.5,392.4 781.6,389.6 782.7,386.8 784.0,384.1 785.4,381.4 787.2,379.1 789.1,376.8 790.5,374.1 791.5,371.3 793.0,368.7 795.0,366.5 796.7,364.0 798.2,361.4 799.6,358.8 801.5,356.4 803.6,354.3 805.9,352.4 808.4,350.7 810.3,348.4 811.9,345.8 814.4,344.5 816.9,343.0 818.2,340.3 820.2,338.2 823.0,337.1 825.9,336.4 828.3,334.6 830.3,332.4 832.5,330.3 834.3,328.0 835.3,325.2 835.7,322.2 836.5,319.3 837.6,316.5 839.0,313.9 840.7,311.4 842.2,308.8 843.4,306.1 845.4,303.9 848.0,302.5 849.5,299.9 850.6,297.1 851.9,294.4 853.4,291.8 855.3,289.5 857.5,287.4 859.6,285.3 861.7,283.2 864.1,281.4 866.4,279.5 868.5,277.3 871.2,276.1 874.1,275.5 877.1,275.0 880.1,274.7 883.1,274.5 886.1,274.6 889.1,275.0 892.0,275.3 895.0,275.5 897.9,276.2 900.4,277.9 902.9,279.5 905.6,280.8 908.3,282.0 911.0,283.3 913.7,284.7 916.4,286.1 919.1,287.2 922.0,288.1 924.9,288.9 927.8,289.4 930.8,289.8 933.8,290.3 936.7,290.9 939.6,291.8 942.4,292.8 945.2,293.8 948.0,294.9 950.9,295.9 953.6,297.0 956.3,298.3 959.0,299.7 961.6,301.2 964.1,302.8 966.7,304.4 969.3,305.9 971.9,307.3 974.5,308.8 977.1,310.3 979.7,311.8 982.3,313.3 984.9,314.9 987.4,316.5 989.9,318.1 992.5,319.7 995.0,321.4 997.4,323.0 999.9,324.8 1002.4,326.5 1004.8,328.3 1007.2,330.0 1009.7,331.7 1012.3,333.3 1014.9,334.8 1017.5,336.2 1020.2,337.5 1022.9,338.7 1025.6,340.0 1028.3,341.4 1031.0,342.8 1033.6,344.2 1036.2,345.7 1038.8,347.2 1041.4,348.7 1043.9,350.3 1046.5,352.0 1048.9,353.7 1051.4,355.4 1053.9,357.0 1056.5,358.6 1059.1,359.9 1061.8,361.2 1064.6,362.5 1067.2,363.9 1069.9,365.3 1072.5,366.7 1075.1,368.2 1077.7,369.7 1080.3,371.2 1082.8,372.9 1085.2,374.6 1087.6,376.5 1089.8,378.5 1092.1,380.5 1094.2,382.5 1096.4,384.7 1098.5,386.8 1100.5,389.0 1102.7,391.1 1104.8,393.2 1107.0,395.3 1109.1,397.4 1111.0,399.7 1112.7,402.2 1114.4,404.6 1116.4,406.9 1118.7,408.8 1121.2,410.5 1123.6,412.2 1126.1,414.0 1128.5,415.7 1131.2,417.0 1134.1,417.7 1137.1,418.2 1140.1,418.0 1143.0,417.3 1145.9,416.6 1148.9,416.5 1151.9,416.6 1154.9,417.1 1157.7,418.1 1160.3,419.5 1162.4,421.6 1164.6,423.7 1167.5,424.1 1170.5,423.7 1172.9,422.0 1175.5,420.6 1177.3,422.9 1178.4,425.6 1179.6,428.4 1181.0,431.0 1183.2,432.7 1185.1,430.5 1186.1,427.7 1186.8,424.7 1187.4,421.8 1188.0,418.8 1188.6,415.9 1189.3,413.0 1190.0,410.1 1190.8,407.2 1191.9,404.4 1193.5,401.8 1195.6,399.7 1198.2,398.4 1201.2,398.1 1204.2,398.0 1207.2,398.0 1210.1,398.5 1212.8,399.8 1215.4,401.3 1218.3,402.0 1221.3,402.6 1224.1,403.5 1226.8,404.8 1229.5,406.3 1232.1,407.7 1234.8,409.0 1237.5,410.4 1240.2,411.7 1242.8,413.0 1245.5,414.4 1248.2,415.7 1250.9,417.1 1253.6,418.4 1256.3,419.7 1258.9,421.1 1261.6,422.4 1264.3,423.8 1267.0,425.1 1269.7,426.5 1272.3,427.8 1275.0,429.2 1277.7,430.5 1280.4,431.8 1283.1,433.1 1285.9,434.3 1288.6,435.5 1291.4,436.6 1294.2,437.8 1296.9,439.1 1299.6,440.4 1302.2,441.8 1304.8,443.3 1307.5,444.7 1310.1,446.2 1312.7,447.6 1315.4,449.0 1318.0,450.4 1320.7,451.8 1323.3,453.2 1326.0,454.6 1328.6,456.1 1331.2,457.6 1333.7,459.2 1336.3,460.7 1339.0,462.1 1341.7,463.4 1344.4,464.6 1347.2,465.8 1350.0,466.9 1352.7,468.1 1355.5,469.3 1358.2,470.6 1360.9,471.9 1363.6,473.2 1366.2,474.6 1368.8,476.1 1371.4,477.6 1374.0,479.2 1376.5,480.9 1379.0,482.5 1381.5,484.2 1383.9,485.9 1386.4,487.6 1388.8,489.4 1391.3,491.1 1393.8,492.7 1396.4,494.3 1399.0,495.8 1401.5,497.3 1404.1,498.9 1406.5,500.6 1409.0,502.4 1411.4,504.1 1413.9,505.8 1416.4,507.5 1418.9,509.2 1421.3,510.9 1423.6,512.8 1425.8,514.8 1428.0,517.0 1430.0,519.2 1432.0,521.4 1433.9,523.7 1435.8,526.0 1437.7,528.4 1439.4,530.8 1441.0,533.4 1442.6,535.9 1444.1,538.5 1445.5,541.2 1446.8,543.9 1448.1,546.6 1449.3,549.3 1450.3,552.1 1451.3,555.0 1452.2,557.8 1452.9,560.8 1453.5,563.7 1454.2,566.6 1455.0,569.5 1455.7,572.4 1456.5,575.3 1457.1,578.2 1457.7,581.2 1458.1,584.2 1458.5,587.1 1459.0,590.1 1460.2,592.9 1462.7,594.1 1465.6,593.3 1468.4,593.8 1470.2,596.1 1471.7,598.7 1473.0,601.4 1474.1,604.2 1475.3,606.9 1476.7,609.6 1478.1,612.3 1479.9,614.7 1482.4,616.2 1485.3,616.1 1488.2,615.4 1490.8,616.7 1492.6,619.2 1493.7,621.9 1494.6,624.8 1495.3,627.7 1496.0,630.6 1496.6,633.6 1497.2,636.5 1497.7,639.5 1498.3,642.4 1499.0,645.3 1499.8,648.2 1500.6,651.1 1501.5,654.0 1502.6,656.8 1504.3,659.2 1506.9,658.9 1508.7,656.5 1510.2,653.9 1512.0,651.5 1514.0,649.2 1515.9,646.9 1517.8,644.6 1519.6,642.2 1521.1,639.6 1522.2,636.9 1523.2,634.0 1524.1,631.2 1524.9,628.3 1525.6,625.4 1526.2,622.4 1526.7,619.5 1527.2,616.5 1527.7,613.5 1528.2,610.6 1528.7,607.6 1529.2,604.7 1529.7,601.7 1530.3,598.8 1531.0,595.9 1531.9,593.0 1532.8,590.1 1533.8,587.3 1534.7,584.4 1535.8,581.7 1537.8,579.4 1540.4,578.1 1543.3,578.5 1545.9,580.0 1548.4,581.6 1550.9,583.3 1553.3,585.1 1555.6,587.0 1557.9,589.0 1560.1,591.0 1562.4,593.0 1564.7,594.9 1567.1,596.7 1569.3,598.7 1571.4,600.8 1573.4,603.0 1575.4,605.3 1577.3,607.6 1579.2,610.0 1580.9,612.4 1582.6,614.9 1584.3,617.4 1585.9,619.9 1587.5,622.5 1589.1,625.0 1590.7,627.5 1592.3,630.1 1594.0,632.6 1595.6,635.1 1597.2,637.6 1598.8,640.2 1600.3,642.7 1601.8,645.3 1603.3,647.9 1604.8,650.5 1606.2,653.2 1607.7,655.8 1609.1,658.5 1610.4,661.1 1611.8,663.8 1613.1,666.5 1614.4,669.2 1615.7,671.9 1617.0,674.6 1618.3,677.3 1619.5,680.1 1620.7,682.8 1622.0,685.6 1623.1,688.3 1624.3,691.1 1625.5,693.8 1626.6,696.6 1627.7,699.4 1628.8,702.2 1629.9,705.0 1630.9,707.8 1632.0,710.6 1633.0,713.4 1634.0,716.3 1635.1,719.1 1636.1,721.9 1637.1,724.7 1638.0,727.6 1639.0,730.4 1640.0,733.3 1640.9,736.1 1641.8,739.0 1642.8,741.8 1643.7,744.7 1644.6,747.5 1645.5,750.4 1646.4,753.3 1647.3,756.1 1648.1,759.0 1649.0,761.9 1649.9,764.7 1650.7,767.6 1651.6,770.5 1652.4,773.4 1653.3,776.2 1654.1,779.1 1654.9,782.0 1655.8,784.9 1656.6,787.8 1657.4,790.6 1658.3,793.5 1659.1,796.4 1659.9,799.3 1660.7,802.2 1661.6,805.1 1662.4,808.0 1663.2,810.8 1664.0,813.7 1664.9,816.6 1665.7,819.5 1666.5,822.4 1667.4,825.3 1668.2,828.1 1669.0,831.0 1669.9,833.9 1670.7,836.8 1671.6,839.6 1672.5,842.5 1673.3,845.4 1674.2,848.3 1675.1,851.1 1676.0,854.0 1676.9,856.8 1677.8,859.7 1678.7,862.6 1679.6,865.4 1680.5,868.3 1681.5,871.1 1682.4,874.0 1683.3,876.8 1684.3,879.7 1685.2,882.5 1686.2,885.4 1687.1,888.2 1688.1,891.1 1689.1,893.9 1690.0,896.7 1691.0,899.6 1692.0,902.4 1693.0,905.2 1693.9,908.1 1694.9,910.9 1695.9,913.7 1696.9,916.6 1697.9,919.4 1698.9,922.2 1699.9,925.1 1700.9,927.9 1701.9,930.7 1702.9,933.6 1703.9,936.4 1704.9,939.2 1705.9,942.0 1706.9,944.9 1707.9,947.7 1708.9,950.5 1709.9,953.4 1710.9,956.2 1711.8,959.0 1712.8,961.9 1713.8,964.7 1714.8,967.5 1715.8,970.4 1716.8,973.2 1717.8,976.0 1718.7,978.9 1719.7,981.7 1720.7,984.5 1721.7,987.4 1722.6,990.2 1723.6,993.1 1724.5,995.9 1725.5,998.8 1726.4,1001.6 1727.4,1004.4 1728.3,1007.3 1729.2,1010.1 1730.2,1013.0 1731.1,1015.8 1732.0,1018.7 1733.0,1021.5 1733.9,1024.4 1734.9,1027.2 1735.8,1030.1 1736.8,1032.9 1737.8,1035.8 1738.7,1038.6 1739.7,1041.4 1740.7,1044.3 1741.7,1047.1 1742.8,1049.9 1743.8,1052.7 1744.8,1055.5 1745.9,1058.3 1747.0,1061.1 1748.1,1063.9 1749.3,1066.7 1750.5,1069.4 1751.7,1072.2 1753.1,1074.9 1754.5,1077.5 1756.0,1080.1 1757.7,1082.5 1759.5,1084.9 1761.5,1087.2 1763.7,1089.3 1766.1,1091.0 1768.9,1092.1 1771.8,1092.7 1774.8,1092.6 1777.7,1091.7 1780.4,1090.5 1782.9,1088.8 1785.2,1086.9 1787.3,1084.8 1789.3,1082.6 1791.1,1080.2 1792.7,1077.6 1794.2,1075.1 1795.6,1072.4 1796.9,1069.7 1798.1,1066.9 1799.3,1064.2 1800.4,1061.4 1801.5,1058.6 1802.6,1055.8 1803.6,1053.0 1804.7,1050.2 1805.7,1047.4 1806.8,1044.6 1807.8,1041.7 1808.8,1038.9 1809.9,1036.1 1810.9,1033.3 1811.9,1030.4 1812.9,1027.6 1813.8,1024.8 1814.8,1021.9 1815.8,1019.1 1816.7,1016.3 1817.7,1013.4 1818.6,1010.6 1819.6,1007.7 1820.5,1004.9 1821.4,1002.0 1822.3,999.2 1823.3,996.3 1824.2,993.4 1825.0,990.6 1825.9,987.7 1826.8,984.8 1827.7,982.0 1828.6,979.1 1829.4,976.2 1830.3,973.3 1831.1,970.5 1832.0,967.6 1832.8,964.7 1833.6,961.8 1834.4,958.9 1835.3,956.0 1836.1,953.2 1836.9,950.3 1837.7,947.4 1838.5,944.5 1839.3,941.6 1840.1,938.7 1840.9,935.8 1841.6,932.9 1842.4,930.0 1843.2,927.1 1844.0,924.2 1844.7,921.3 1845.5,918.4 1846.3,915.5 1847.0,912.6 1847.8,909.7 1848.5,906.8 1849.3,903.9 1850.0,901.0 1850.8,898.1 1851.5,895.2 1852.2,892.3 1853.0,889.4 1853.7,886.4 1854.4,883.5 1855.1,880.6 1855.9,877.7 1856.6,874.8 1857.3,871.9 1858.0,869.0 1858.7,866.1 1859.5,863.2 1860.2,860.2 1860.9,857.3 1861.6,854.4 1862.3,851.5 1863.0,848.6 1863.7,845.7 1864.4,842.7 1865.1,839.8 1865.8,836.9 1866.5,834.0 1867.2,831.1 1867.9,828.2 1868.6,825.2 1869.3,822.3 1870.0,819.4 1870.7,816.5 1871.4,813.6 1872.1,810.7 1872.8,807.7 1873.5,804.8 1874.2,801.9 1874.9,799.0 1875.6,796.1 1876.3,793.1 1877.0,790.2 1877.7,787.3 1878.4,784.4 1879.1,781.5 1879.9,778.6 1880.6,775.7 1881.3,772.8 1882.1,769.9 1882.9,767.0 1883.7,764.1 1884.5,761.2 1885.4,758.3 1886.2,755.4 1887.1,752.6 1887.9,749.7 1888.8,746.8 1889.6,743.9 1890.5,741.1 1891.4,738.2 1892.2,735.3 1893.1,732.4 1894.0,729.6 1894.9,726.7 1895.9,723.9 1897.0,721.1 1898.0,718.3 1899.2,715.5 1900.3,712.7 1901.6,710.0 1902.9,707.3 1904.4,704.7 1906.3,702.4 1909.1,701.7 1912.1,701.7 1914.2,699.7 1915.0,696.8 1915.5,693.9 1916.1,690.9 1917.0,688.1 1918.1,685.3 1919.7,682.8 1922.4,681.7 1925.3,682.3 1928.1,681.6 1929.5,679.0 1930.5,676.2 1932.1,673.7 1934.9,672.6 1937.8,671.9 1939.8,669.7 1942.0,667.8 1945.0,667.9 1947.9,668.4 1950.9,668.9 1953.9,669.2 1956.7,670.2 1959.1,671.9 1961.6,673.6 1964.4,674.6 1967.4,675.1 1970.4,674.9 1972.8,673.1 1974.8,671.0 1977.4,669.4 1980.2,668.4 1983.1,667.9 1986.1,667.9 1989.1,668.5 1991.9,669.5 1994.2,671.3 1996.1,673.7 1998.6,675.2 2001.6,675.5 2004.6,675.9 2007.1,677.4 2009.5,679.3 2012.2,680.5 2015.0,681.5 2017.9,682.3 2020.8,683.0 2023.8,683.6 2026.7,684.1 2029.7,684.5 2032.7,685.0 2035.6,685.4 2038.6,685.8 2041.6,686.2 2044.6,686.7 2047.5,687.1 2050.5,687.6 2053.4,688.2 2056.4,688.6 2059.3,688.0 2062.0,687.3 2064.5,688.9 2067.2,690.0 2070.2,690.6 2073.2,690.9 2076.1,691.2 2079.1,691.6 2082.1,691.9 2085.1,692.3 2088.0,692.8 2091.0,693.3 2094.0,693.8 2096.9,694.3 2099.9,694.7 2102.8,695.2 2105.8,695.6 2108.8,696.0 2111.8,696.4 2114.0,696.8" fill="none" stroke="#5B73FF" stroke-width="6" stroke-linejoin="round" stroke-linecap="butt"/>
<line x1="435.5" y1="297.1" x2="433.0" y2="1282.0" stroke="#000" stroke-width="6.3" stroke-dasharray="27.00 26.22"/>
<line x1="533.0" y1="258.1" x2="530.7" y2="1243.0" stroke="#000" stroke-width="6.3" stroke-dasharray="27.00 26.22"/>
<line x1="648.0" y1="276.1" x2="645.2" y2="1261.0" stroke="#000" stroke-width="6.3" stroke-dasharray="27.00 26.22"/>
<line x1="768.0" y1="308.3" x2="765.1" y2="1293.0" stroke="#000" stroke-width="6.3" stroke-dasharray="27.00 26.21"/>
<line x1="1176.7" y1="351.4" x2="1179.7" y2="1017.3" stroke="#000" stroke-width="6.8" stroke-dasharray="27.00 26.24"/>
<line x1="1772.5" y1="912.7" x2="1776.8" y2="1580.4" stroke="#000" stroke-width="6.8" stroke-dasharray="27.00 26.39"/>
</g>
<g id="ticklabels" text-anchor="middle">
<text transform="translate(407.9,1700.8) scale(1,1.035)" font-size="67.4" >1000</text>
<text transform="translate(692.0,1700.8) scale(1,1.035)" font-size="67.4" >1500</text>
<text transform="translate(976.2,1700.8) scale(1,1.035)" font-size="67.4" >2000</text>
<text transform="translate(1260.4,1700.8) scale(1,1.035)" font-size="67.4" >2500</text>
<text transform="translate(1544.6,1700.8) scale(1,1.035)" font-size="67.4" >3000</text>
<text transform="translate(1828.8,1700.8) scale(1,1.035)" font-size="67.4" >3500</text>
<text transform="translate(2113.0,1700.8) scale(1,1.035)" font-size="67.4" >4000</text>
</g>
<text transform="translate(790,1833.8) scale(1,1.035)" font-size="81.4" >Wavenumber (cm<tspan font-size="56" dy="-31.5">-1</tspan><tspan dy="31.5" dx="1.5">)</tspan></text>
<text transform="translate(100,1097.5) rotate(-90) scale(1,1.035)" font-size="81.8" >Absorbance (a.u)</text>
<g id="annot" class="it">
<text transform="translate(519.5,222) scale(1,1.035)" font-size="67.4" >1220</text>
<text transform="translate(1168.5,328) scale(1,1.035)" font-size="67.4" >2370</text>
<text transform="translate(1698.5,855) scale(1,1.035)" font-size="67.4" >3400</text>
<text transform="translate(1397.5,1299.8) scale(1,1.035)" font-size="67.4" >2950</text>
<text transform="translate(438,1407.8) scale(1,1.035)" font-size="67.4" >1030</text>
<text transform="translate(633,1391) scale(1,1.035)" font-size="67.4" >1400</text>
<text transform="translate(862.5,1374.2) scale(1,1.035)" font-size="67.4" >1660</text>
</g>
<g id="arrows">
<line x1="471.2" y1="1346.2" x2="459.5" y2="1328.0" stroke="#000" stroke-width="2.2"/><polygon points="439.3,1295.4 450.3,1333.1 468.6,1323.0" fill="#000"/>
<line x1="693.0" y1="1326.8" x2="669.2" y2="1296.8" stroke="#000" stroke-width="2.2"/><polygon points="644.5,1266.8 662.0,1302.8 676.5,1290.8" fill="#000"/>
<line x1="844.2" y1="1337.7" x2="811.4" y2="1311.2" stroke="#000" stroke-width="2.2"/><polygon points="780.3,1287.6 805.0,1319.5 817.8,1303.0" fill="#000"/>
</g>
<g id="legend">
<rect x="1751.5" y="77.5" width="284" height="260" fill="#fff" stroke="#000" stroke-width="3"/>
<line x1="1762" y1="124.0" x2="1913" y2="124.0" stroke="#5B73FF" stroke-width="6" stroke-linecap="round"/>
<text transform="translate(1930,146.4) scale(1,1.035)" font-size="67.4" >2:1</text>
<line x1="1762" y1="207.7" x2="1913" y2="207.7" stroke="#FF8000" stroke-width="6" stroke-linecap="round"/>
<text transform="translate(1930,230.2) scale(1,1.035)" font-size="67.4" >3:1</text>
<line x1="1762" y1="291.4" x2="1913" y2="291.4" stroke="#C0C0C0" stroke-width="6" stroke-linecap="round"/>
<text transform="translate(1930,314.0) scale(1,1.035)" font-size="67.4" >4:1</text>
</g>
</svg></body></html>
